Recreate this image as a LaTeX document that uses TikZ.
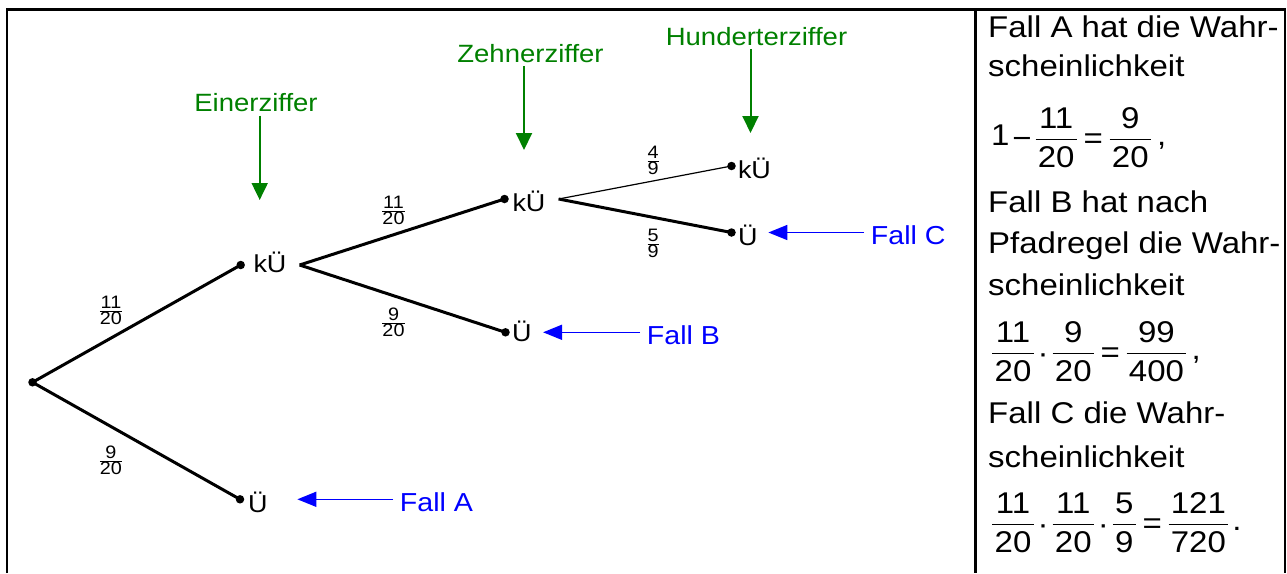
\documentclass[tikz,border=0pt]{standalone}
\usepackage{fontspec}
\setmainfont{Liberation Sans}
\newfontfamily\wf{Liberation Sans}[FakeStretch=1.1]
\usetikzlibrary{arrows.meta}
\definecolor{gr}{RGB}{0,128,0}
\definecolor{bl}{RGB}{0,0,255}
\newcommand\sfr[2]{$\frac{\mbox{#1}}{\mbox{#2}}$}
\newcommand\bfr[2]{\frac{\mbox{\kern2.3pt\rule[-0.327em]{0pt}{0.327em}#1\kern2.3pt}}{\mbox{\kern2.3pt\rule{0pt}{0.893em}#2\kern2.3pt}}}
\newcommand\tmin{\mathbin{\raisebox{-2.5pt}{\mbox{−}}}}
\newcommand\teq{\mathrel{\raisebox{-2.5pt}{\mbox{=}}}}
\newcommand\tdot{\mathbin{\raisebox{-3.5pt}{\mbox{·}}}}
\newcommand\fml[1]{\(\medmuskip=2mu\thickmuskip=4mu\displaystyle #1\)}
\begin{document}
\begin{tikzpicture}[x=1pt,y=-1pt,
  frame/.style={line width=2.5pt},
  dot/.style={circle,fill=black,inner sep=0pt,minimum size=8.5pt},
  lbl/.style={font=\wf\fontsize{24.5}{29}\selectfont,anchor=west,inner xsep=13pt,inner ysep=0pt,text depth=0pt,text height=24pt},
  branch/.style={line width=3pt},
  thinbranch/.style={line width=1.2pt},
  frac/.style={font=\wf\fontsize{18}{21}\selectfont,inner sep=0pt,anchor=base},
  glbl/.style={font=\wf\fontsize{25}{30}\selectfont,text=gr,anchor=base,inner xsep=0pt,inner ysep=3.5pt},
  garr/.style={draw=gr,line width=2pt,-{Triangle[length=17pt,width=16pt]}},
  blbl/.style={font=\wf\fontsize{26}{31}\selectfont,text=bl,anchor=west,inner xsep=6.7pt,inner ysep=0pt,text depth=0pt,text height=24pt},
  barr/.style={draw=bl,line width=1.6pt,-{Triangle[length=19pt,width=15pt]}},
  txt/.style={font=\wf\fontsize{30}{36}\selectfont,anchor=base west,inner sep=0pt},
]
\useasboundingbox (0,0) rectangle (1287,573);
% frame
\draw[frame] (7,573) -- (7,9.5) -- (1285,9.5) -- (1285,573);
\draw[frame] (975.5,9.5) -- (975.5,573);
% tree dots and labels
\node[dot] (r) at (32.5,382.3) {};
\node[dot] (d1) at (240.7,265) {};
\node[lbl,text height=15.5pt] (k1) at (240.3,265) {kÜ};
\node[dot] (d2) at (240,499.3) {};
\node[lbl,text height=25.4pt] (u1) at (235,499.3) {Ü};
\node[dot] (d3) at (504.5,199) {};
\node[lbl,text height=25.4pt] (k2) at (499.3,199) {kÜ};
\node[dot] (d4) at (505.5,332.3) {};
\node[lbl,text height=17.4pt] (u2) at (499,332.3) {Ü};
\node[dot] (d5) at (731.5,166) {};
\node[lbl,text height=24pt] (k3) at (724.8,166) {kÜ};
\node[dot] (d6) at (731.5,232.5) {};
\node[lbl,text height=25pt] (u3) at (725,232.5) {Ü};
% branches
\draw[branch] (r.center) -- (d1.center);
\draw[branch] (r.center) -- (d2.center);
\draw[branch] (k1.east) -- (d3.center);
\draw[branch] (k1.east) -- (d4.center);
\draw[thinbranch] (k2.east) -- (d5.center);
\draw[branch] (k2.east) -- (d6.center);
% branch probabilities
\node[frac] (f1) at (111,315.5) {\sfr{11}{20}};
\node[frac] (f2) at (111,465.5) {\sfr{9}{20}};
\node[frac] (f3) at (393.5,215.5) {\sfr{11}{20}};
\node[frac] (f4) at (393.5,327.5) {\sfr{9}{20}};
\node[frac] (f5) at (653,165.2) {\sfr{4}{9}};
\node[frac] (f6) at (653,248.5) {\sfr{5}{9}};
% green labels
\node[glbl] (ez) at (256,111.7) {Einerziffer};
\coordinate (ezt) at (259.7,200);
\draw[garr] (ez.south -| ezt) -- (ezt);
\node[glbl] (zz) at (530.5,62) {Zehnerziffer};
\coordinate (zzt) at (524,150);
\draw[garr] (zz.south -| zzt) -- (zzt);
\node[glbl] (hz) at (756.5,45) {Hunderterziffer};
\coordinate (hzt) at (750.5,133);
\draw[garr] (hz.south -| hzt) -- (hzt);
% blue labels
\node[blbl] (fa) at (393,499.3) {Fall A};
\draw[barr,shorten >=16.5pt] (fa.west) -- (u1.east);
\node[blbl] (fb) at (640,332.3) {Fall B};
\draw[barr,shorten >=-1.8pt] (fb.west) -- (u2.east);
\node[blbl] (fc) at (864,232.5) {Fall C};
\draw[barr,shorten >=-2.5pt] (fc.west) -- (u3.east);
% right column
\node[txt] (t1) at (988,37) {Fall A hat die Wahr-};
\node[txt] (t2) at (988,76) {scheinlichkeit};
\node[txt] (t3) at (991,145.5) {\fml{\mbox{1}\tmin\bfr{11}{20}\teq\bfr{9}{20}}\kern5pt,};
\node[txt] (t4) at (988,212) {Fall B hat nach};
\node[txt] (t5) at (988,253) {Pfadregel die Wahr-};
\node[txt] (t6) at (988,295) {scheinlichkeit};
\node[txt] (t7) at (991,359.5) {\fml{\bfr{11}{20}\tdot\bfr{9}{20}\teq\bfr{99}{400}}\kern4pt,};
\node[txt] (t8) at (988,423) {Fall C die Wahr-};
\node[txt] (t9) at (988,467) {scheinlichkeit};
\node[txt] (t10) at (991,530.5) {\fml{\bfr{11}{20}\tdot\bfr{11}{20}\tdot\bfr{5}{9}\teq\bfr{121}{720}}\kern3pt.};
\end{tikzpicture}
\end{document}
